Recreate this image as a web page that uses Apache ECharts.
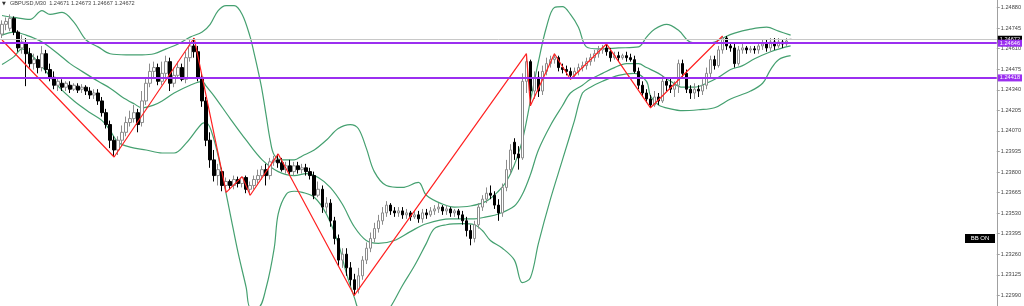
<!DOCTYPE html>
<html><head><meta charset="utf-8">
<script src="https://cdn.jsdelivr.net/npm/echarts@6/dist/echarts.min.js"></script>
<style>html,body{margin:0;padding:0;background:#fff;overflow:hidden;width:1024px;height:306px}#c{width:1024px;height:335px;margin-top:-16px}</style>
</head><body><div id="c"></div>
<script>
// GBPUSD M30 candles (prices)
const open = [1.24706,1.24770,1.24744,1.24809,1.24719,1.24615,1.24641,1.24577,1.24512,1.24538,
1.24486,1.24577,1.24473,1.24422,1.24370,1.24383,1.24357,1.24370,1.24344,1.24364,
1.24344,1.24357,1.24332,1.24306,1.24319,1.24267,1.24190,1.24112,1.24009,1.23945,
1.24009,1.24061,1.24125,1.24151,1.24190,1.24125,1.24267,1.24383,1.24461,1.24486,
1.24396,1.24448,1.24525,1.24383,1.24435,1.24486,1.24409,1.24551,1.24628,1.24590,
1.24422,1.24267,1.24009,1.23880,1.23777,1.23803,1.23712,1.23738,1.23712,1.23751,
1.23725,1.23764,1.23687,1.23712,1.23751,1.23777,1.23816,1.23777,1.23867,1.23880,
1.23861,1.23816,1.23841,1.23803,1.23841,1.23816,1.23828,1.23803,1.23777,1.23648,
1.23687,1.23570,1.23596,1.23480,1.23364,1.23222,1.23261,1.23171,1.23093,1.23029,
1.23119,1.23222,1.23300,1.23364,1.23429,1.23480,1.23532,1.23583,1.23545,1.23532,
1.23545,1.23519,1.23532,1.23506,1.23519,1.23493,1.23532,1.23519,1.23545,1.23558,
1.23570,1.23545,1.23558,1.23532,1.23545,1.23519,1.23480,1.23416,1.23364,1.23454,
1.23570,1.23622,1.23661,1.23648,1.23583,1.23532,1.23699,1.23816,1.23996,1.23919,
1.23893,1.24396,1.24525,1.24332,1.24422,1.24332,1.24461,1.24512,1.24538,1.24551,
1.24486,1.24473,1.24461,1.24435,1.24461,1.24486,1.24499,1.24525,1.24551,1.24577,
1.24602,1.24615,1.24590,1.24551,1.24564,1.24551,1.24564,1.24551,1.24538,1.24461,
1.24370,1.24319,1.24280,1.24241,1.24293,1.24267,1.24396,1.24370,1.24344,1.24370,
1.24512,1.24448,1.24344,1.24319,1.24344,1.24332,1.24370,1.24448,1.24538,1.24499,
1.24602,1.24680,1.24628,1.24615,1.24512,1.24602,1.24615,1.24602,1.24609,1.24602,
1.24628,1.24641,1.24615,1.24654,1.24628,1.24654,1.24641,1.24671];
const close = [1.24770,1.24789,1.24809,1.24719,1.24615,1.24654,1.24577,1.24512,1.24538,1.24486,
1.24577,1.24473,1.24422,1.24370,1.24396,1.24357,1.24383,1.24344,1.24370,1.24338,
1.24357,1.24332,1.24306,1.24319,1.24267,1.24190,1.24112,1.24009,1.23945,1.24009,
1.24061,1.24125,1.24151,1.24190,1.24112,1.24267,1.24383,1.24461,1.24486,1.24396,
1.24448,1.24525,1.24383,1.24435,1.24486,1.24409,1.24551,1.24628,1.24590,1.24422,
1.24267,1.24009,1.23880,1.23777,1.23816,1.23712,1.23738,1.23712,1.23751,1.23725,
1.23764,1.23687,1.23712,1.23751,1.23777,1.23816,1.23777,1.23867,1.23880,1.23861,
1.23816,1.23841,1.23803,1.23841,1.23816,1.23828,1.23803,1.23777,1.23648,1.23687,
1.23570,1.23596,1.23480,1.23364,1.23222,1.23261,1.23171,1.23093,1.23029,1.23119,
1.23222,1.23300,1.23364,1.23429,1.23480,1.23532,1.23583,1.23545,1.23532,1.23545,
1.23519,1.23532,1.23506,1.23519,1.23493,1.23532,1.23519,1.23545,1.23558,1.23570,
1.23545,1.23558,1.23532,1.23545,1.23519,1.23480,1.23416,1.23364,1.23454,1.23570,
1.23622,1.23661,1.23648,1.23583,1.23532,1.23699,1.23816,1.23945,1.23919,1.23893,
1.24396,1.24525,1.24332,1.24422,1.24332,1.24461,1.24512,1.24538,1.24551,1.24486,
1.24473,1.24461,1.24435,1.24461,1.24486,1.24499,1.24525,1.24551,1.24577,1.24602,
1.24615,1.24590,1.24551,1.24564,1.24551,1.24564,1.24551,1.24538,1.24461,1.24370,
1.24319,1.24280,1.24241,1.24293,1.24267,1.24396,1.24370,1.24344,1.24370,1.24512,
1.24448,1.24344,1.24319,1.24344,1.24332,1.24370,1.24448,1.24538,1.24499,1.24602,
1.24680,1.24628,1.24615,1.24512,1.24602,1.24615,1.24602,1.24609,1.24602,1.24628,
1.24641,1.24615,1.24654,1.24628,1.24654,1.24641,1.24660,1.24672];
const high = [1.24796,1.24815,1.24835,1.24822,1.24731,1.24699,1.24680,1.24615,1.24577,1.24564,
1.24628,1.24602,1.24512,1.24461,1.24422,1.24409,1.24396,1.24396,1.24383,1.24383,
1.24377,1.24370,1.24357,1.24344,1.24344,1.24293,1.24215,1.24138,1.24035,1.24035,
1.24106,1.24164,1.24203,1.24241,1.24215,1.24332,1.24422,1.24512,1.24525,1.24512,
1.24525,1.24564,1.24551,1.24486,1.24525,1.24512,1.24590,1.24667,1.24680,1.24628,
1.24448,1.24293,1.24061,1.23945,1.23854,1.23828,1.23764,1.23751,1.23777,1.23770,
1.23770,1.23777,1.23738,1.23777,1.23816,1.23841,1.23854,1.23893,1.23906,1.23919,
1.23893,1.23867,1.23880,1.23867,1.23867,1.23854,1.23854,1.23828,1.23803,1.23738,
1.23712,1.23635,1.23622,1.23506,1.23390,1.23300,1.23300,1.23209,1.23132,1.23171,
1.23248,1.23338,1.23403,1.23467,1.23519,1.23570,1.23609,1.23596,1.23570,1.23570,
1.23570,1.23558,1.23545,1.23545,1.23545,1.23558,1.23558,1.23570,1.23583,1.23596,
1.23583,1.23583,1.23570,1.23558,1.23558,1.23545,1.23506,1.23454,1.23480,1.23596,
1.23648,1.23699,1.23712,1.23674,1.23622,1.23725,1.23880,1.23983,1.24022,1.23970,
1.24448,1.24577,1.24538,1.24461,1.24461,1.24499,1.24551,1.24564,1.24577,1.24564,
1.24512,1.24499,1.24486,1.24486,1.24512,1.24525,1.24551,1.24577,1.24602,1.24628,
1.24635,1.24641,1.24615,1.24590,1.24590,1.24577,1.24590,1.24577,1.24564,1.24486,
1.24396,1.24344,1.24306,1.24332,1.24319,1.24435,1.24422,1.24422,1.24396,1.24538,
1.24538,1.24473,1.24370,1.24383,1.24370,1.24409,1.24486,1.24564,1.24564,1.24628,
1.24693,1.24693,1.24654,1.24641,1.24628,1.24641,1.24628,1.24628,1.24628,1.24654,
1.24667,1.24667,1.24680,1.24680,1.24680,1.24667,1.24680,1.24673];
const low = [1.24680,1.24731,1.24725,1.24699,1.24590,1.24577,1.24364,1.24486,1.24473,1.24448,
1.24461,1.24448,1.24396,1.24344,1.24332,1.24332,1.24332,1.24319,1.24332,1.24319,
1.24319,1.24306,1.24280,1.24280,1.24241,1.24164,1.24086,1.23957,1.23899,1.23912,
1.23970,1.24035,1.24099,1.24125,1.24061,1.24099,1.24241,1.24357,1.24422,1.24370,
1.24370,1.24409,1.24332,1.24357,1.24422,1.24396,1.24383,1.24525,1.24551,1.24396,
1.24228,1.23970,1.23828,1.23738,1.23712,1.23674,1.23667,1.23687,1.23687,1.23699,
1.23699,1.23661,1.23648,1.23687,1.23725,1.23751,1.23712,1.23751,1.23841,1.23828,
1.23803,1.23790,1.23777,1.23777,1.23790,1.23790,1.23777,1.23751,1.23622,1.23635,
1.23532,1.23532,1.23441,1.23325,1.23183,1.23171,1.23119,1.23054,1.22990,1.23003,
1.23093,1.23196,1.23274,1.23338,1.23403,1.23454,1.23506,1.23519,1.23506,1.23506,
1.23493,1.23493,1.23480,1.23493,1.23467,1.23467,1.23493,1.23506,1.23519,1.23532,
1.23519,1.23519,1.23506,1.23506,1.23493,1.23454,1.23377,1.23319,1.23338,1.23429,
1.23545,1.23596,1.23622,1.23558,1.23480,1.23506,1.23674,1.23790,1.23880,1.23816,
1.23880,1.24319,1.24235,1.24280,1.24293,1.24306,1.24435,1.24486,1.24512,1.24461,
1.24448,1.24435,1.24409,1.24422,1.24435,1.24461,1.24473,1.24499,1.24525,1.24551,
1.24577,1.24564,1.24525,1.24538,1.24525,1.24538,1.24525,1.24525,1.24448,1.24344,
1.24293,1.24254,1.24222,1.24228,1.24241,1.24254,1.24332,1.24319,1.24293,1.24319,
1.24422,1.24319,1.24280,1.24280,1.24293,1.24306,1.24344,1.24422,1.24473,1.24486,
1.24577,1.24602,1.24590,1.24486,1.24499,1.24577,1.24577,1.24583,1.24577,1.24577,
1.24602,1.24590,1.24590,1.24602,1.24615,1.24615,1.24628,1.24667];

// Bollinger bands read at bar indices
const ubIdx = [0,3,7,10,12,15,18,21,24,27,31,35,38,41,44,47,50,52,54,56,58,60,62,63,64,65,66,67,68,70,73,75,78,81,84,87,89,91,93,96,100,104,106,110,113,117,121,124,126,128,130,132,134,136,138,140,142,144,146,149,154,159,161,163,166,169,172,175,178,180,183,187,191,194,197];
const ubVal = [1.24828,1.24815,1.24802,1.24860,1.24835,1.24848,1.24783,1.24667,1.24622,1.24577,1.24570,1.24570,1.24577,1.24609,1.24641,1.24686,1.24719,1.24770,1.24860,1.24893,1.24893,1.24835,1.24686,1.24577,1.24461,1.24332,1.24170,1.24009,1.23912,1.23880,1.23880,1.23906,1.23945,1.24009,1.24086,1.24112,1.24086,1.23957,1.23803,1.23712,1.23699,1.23732,1.23648,1.23590,1.23570,1.23577,1.23609,1.23674,1.23738,1.23848,1.24009,1.24267,1.24525,1.24751,1.24880,1.24886,1.24835,1.24751,1.24622,1.24609,1.24615,1.24622,1.24686,1.24738,1.24770,1.24731,1.24654,1.24648,1.24654,1.24680,1.24712,1.24738,1.24751,1.24725,1.24699];
const mbIdx = [0,3,6,10,14,17,20,24,27,30,33,35,38,40,43,47,50,51,53,57,61,65,69,73,76,79,82,85,88,91,94,98,102,106,112,118,121,124,128,130,132,134,137,140,142,145,147,150,153,156,159,161,164,167,170,173,176,179,182,185,188,192,195,197];
const mbVal = [1.24699,1.24719,1.24699,1.24654,1.24577,1.24512,1.24461,1.24396,1.24351,1.24293,1.24248,1.24222,1.24241,1.24267,1.24319,1.24370,1.24396,1.24364,1.24299,1.24151,1.24009,1.23880,1.23803,1.23777,1.23790,1.23764,1.23699,1.23590,1.23441,1.23351,1.23332,1.23351,1.23409,1.23461,1.23493,1.23493,1.23506,1.23525,1.23577,1.23654,1.23783,1.23945,1.24106,1.24235,1.24319,1.24370,1.24409,1.24448,1.24486,1.24512,1.24512,1.24486,1.24448,1.24396,1.24357,1.24357,1.24383,1.24422,1.24473,1.24499,1.24544,1.24590,1.24615,1.24628];
const lbIdx = [0,3,5,7,10,14,18,22,25,27,29,32,36,40,43,46,50,51,53,55,57,59,61,62,64,66,68,69,71,73,75,78,81,84,86,88,90,94,97,100,103,106,108,111,115,118,120,122,125,128,130,132,134,137,140,143,145,147,150,154,158,161,162,164,167,170,174,178,182,187,190,192,194,197];
const lbVal = [1.24506,1.24558,1.24609,1.24577,1.24493,1.24364,1.24267,1.24190,1.24138,1.24074,1.23996,1.23964,1.23945,1.23925,1.23925,1.23990,1.24119,1.24125,1.24009,1.23783,1.23526,1.23267,1.23042,1.22913,1.22913,1.23042,1.23300,1.23526,1.23654,1.23674,1.23667,1.23635,1.23526,1.23332,1.23138,1.22977,1.22848,1.22816,1.22913,1.23054,1.23183,1.23332,1.23429,1.23454,1.23461,1.23454,1.23416,1.23351,1.23300,1.23222,1.23074,1.23106,1.23332,1.23622,1.23880,1.24138,1.24319,1.24357,1.24396,1.24435,1.24448,1.24396,1.24299,1.24241,1.24215,1.24203,1.24209,1.24222,1.24280,1.24332,1.24383,1.24473,1.24538,1.24564];

// ZigZag pivots
const zzIdx = [0,28,48,56,60,62,69,88,131,132,138,142,151,162,180];
const zzVal = [1.24667,1.23899,1.24680,1.23667,1.23770,1.23648,1.23919,1.22990,1.24577,1.24235,1.24577,1.24409,1.24641,1.24222,1.24693];

// Horizontal levels
const levels = [1.24646, 1.24418];
const bidPrice = 1.24672;
const titleText = 'GBPUSD,M30  1.24671 1.24673 1.24667 1.24672';
const slots = 249;

const cats = [];
for (let i = 0; i < slots; i++) cats.push(String(i));
const candles = open.map((o, i) => [o, close[i], low[i], high[i]]);
const pairs = (idx, val) => idx.map((x, k) => [x, val[k]]);
const bbColor = '#45a070';
const purple = '#9b2ff0';
const font = 'Liberation Sans';
const OFF = 16; // container offset (div starts 16px above the window)

const chart = echarts.init(document.getElementById('c'), null, {renderer: 'canvas'});
const bandSeries = (data) => ({
  type: 'line', data: data, showSymbol: false, symbol: 'none', smooth: 0.35,
  lineStyle: {color: bbColor, width: 1.2}, z: 2, silent: true
});
chart.setOption({
  animation: false,
  backgroundColor: '#ffffff',
  grid: {left: 0, right: 27, top: 0, bottom: 0, containLabel: false},
  xAxis: {type: 'category', data: cats, boundaryGap: true, show: false},
  yAxis: {
    type: 'value', position: 'right', min: 1.22855, max: 1.25015, interval: 0.00135,
    axisLine: {show: true, lineStyle: {color: '#a0a0a0', width: 1}},
    axisTick: {show: true, length: 3, lineStyle: {color: '#a0a0a0'}},
    axisLabel: {formatter: v => v.toFixed(5), fontSize: 5.6, color: '#444', margin: 4, fontFamily: font},
    splitLine: {show: false}
  },
  series: [
    bandSeries(pairs(ubIdx, ubVal)),
    bandSeries(pairs(mbIdx, mbVal)),
    bandSeries(pairs(lbIdx, lbVal)),
    {
      type: 'candlestick', data: candles, barWidth: 3, z: 3,
      itemStyle: {color: '#ffffff', borderColor: '#8c8c8c', color0: '#000000', borderColor0: '#000000', borderWidth: 1}
    },
    {
      type: 'line', data: pairs(zzIdx, zzVal), symbol: 'none', z: 4,
      lineStyle: {color: '#ff2222', width: 1.2},
      markLine: {
        symbol: 'none', silent: true, z: 5, precision: 5,
        label: {show: true, position: 'end', distance: 1, fontSize: 5.6, fontFamily: font, color: '#fff',
          padding: [1, 2, 0, 2], formatter: p => Number(p.value).toFixed(5)},
        data: [
          {yAxis: bidPrice, lineStyle: {color: '#c8c8c8', width: 1, type: 'solid'}, label: {backgroundColor: '#000'}},
          {yAxis: levels[0], lineStyle: {color: purple, width: 2, type: 'solid'}, label: {backgroundColor: purple}},
          {yAxis: levels[1], lineStyle: {color: purple, width: 2, type: 'solid'}, label: {backgroundColor: purple}}
        ]
      }
    }
  ],
  graphic: [
    {type: 'text', left: 2, top: OFF + 1, style: {text: '▼', font: '5px DejaVu Sans', fill: '#333'}},
    {type: 'text', left: 10, top: OFF, style: {text: titleText, font: '5.6px Liberation Sans', fill: '#444'}},
    {type: 'rect', shape: {x: 965, y: OFF + 234, width: 30, height: 9}, style: {fill: '#000'}},
    {type: 'text', x: 980, y: OFF + 238.5, style: {text: 'BB ON', font: '6px Liberation Sans', fill: '#fff', align: 'center', verticalAlign: 'middle'}}
  ]
});
</script></body></html>
